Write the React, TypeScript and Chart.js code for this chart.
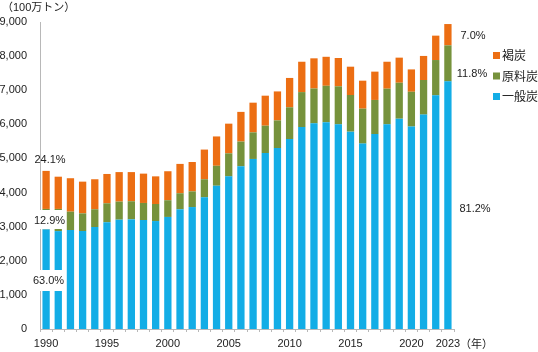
import React, { useEffect, useRef } from "react";
import { Chart, registerables } from "chart.js";

Chart.register(...registerables);

const years = [
  "1990","1991","1992","1993","1994","1995","1996","1997","1998","1999",
  "2000","2001","2002","2003","2004","2005","2006","2007","2008","2009",
  "2010","2011","2012","2013","2014","2015","2016","2017","2018","2019",
  "2020","2021","2022","2023",
];
const shownYears = ["1990","1995","2000","2005","2010","2015","2020","2023"];

const steamCoal = [
  2920, 2870, 2900, 2870, 2990, 3130, 3205, 3215, 3195, 3165,
  3285, 3510, 3575, 3860, 4200, 4475, 4770, 4985, 5160, 5305,
  5570, 5920, 6030, 6060, 6000, 5785, 5435, 5715, 6000, 6165,
  5935, 6285, 6850, 7260,
];
const cokingCoal = [
  600, 650, 540, 520, 520, 555, 530, 530, 500, 500,
  490, 470, 460, 530, 585, 675, 725, 780, 800, 810,
  930, 1025, 1020, 1070, 1115, 1075, 1025, 1000, 1045, 1055,
  1020, 1015, 1035, 1055,
];
const lignite = [
  1115, 945, 980, 930, 880, 860, 865, 855, 860, 810,
  850, 860, 860, 870, 860, 870, 870, 870, 880, 850,
  860, 890, 885, 850, 830, 830, 820, 830, 790, 735,
  655, 705, 715, 625,
];

const seriesNames = ["一般炭", "原料炭", "褐炭"];
const seriesColors = ["#13ADE6", "#76923C", "#EC6E13"];
const shares1990 = ["63.0%", "12.9%", "24.1%"];
const shares2023 = ["81.2%", "11.8%", "7.0%"];
const unitLabel = "（100万トン）";
const yearLabel = "（年）";

const FONT = "'Liberation Sans', Arial, 'Noto Sans CJK JP', sans-serif";

const overlay = {
  id: "overlay",
  afterDatasetsDraw(chart: any) {
    const ctx = chart.ctx;
    ctx.save();
    ctx.font = `11px ${FONT}`;
    ctx.textBaseline = "middle";
    ctx.textAlign = "center";
    // white boxes behind 1990 labels
    ctx.fillStyle = "#fff";
    ctx.fillRect(34, 210, 31, 19);
    ctx.fillRect(33, 270, 32, 21);
    ctx.fillStyle = "#222";
    ctx.fillText(shares1990[2], 50, 160);
    ctx.fillText(shares1990[1], 49.5, 220.5);
    ctx.fillText(shares1990[0], 48.5, 281);
    ctx.fillText(shares2023[2], 473, 35.5);
    ctx.fillText(shares2023[1], 472, 73.5);
    ctx.fillText(shares2023[0], 475, 208.5);

    // unit label
    ctx.textAlign = "left";
    ctx.fillText(unitLabel, 2, 7.5);
    // year label
    ctx.fillText(yearLabel, 460, 344.5);

    // legend
    const legendY = [96.5, 76, 55.5];
    ctx.font = `12px 'Noto Sans CJK JP', sans-serif`;
    for (let i = 0; i < 3; i++) {
      ctx.fillStyle = seriesColors[i];
      ctx.fillRect(493, legendY[i] - 3.5, 7, 7);
      ctx.fillStyle = "#222";
      ctx.fillText(seriesNames[i], 502, legendY[i]);
    }
    ctx.restore();
  },
};

export default function App() {
  const ref = useRef<HTMLCanvasElement | null>(null);
  useEffect(() => {
    document.body.style.margin = "0";
    const c = ref.current;
    if (!c) return;
    const data = [steamCoal, cokingCoal, lignite];
    const chart = new Chart(c, {
      type: "bar",
      data: {
        labels: years,
        datasets: data.map((d, i) => ({
          label: seriesNames[i],
          data: d,
          backgroundColor: seriesColors[i],
          borderWidth: 0,
          categoryPercentage: 1,
          barPercentage: 0.6,
        })),
      },
      options: {
        animation: false,
        responsive: false,
        maintainAspectRatio: false,
        layout: { padding: { top: 22, right: 84, left: 0, bottom: 0 } },
        plugins: { legend: { display: false }, tooltip: { enabled: false } },
        scales: {
          x: {
            stacked: true,
            afterFit: (s: any) => { s.height = 23; },
            grid: {
              display: true,
              drawOnChartArea: false,
              drawTicks: true,
              tickLength: 3,
              color: "#b8b8b8",
            },
            border: { display: true, color: "#b8b8b8", width: 1 },
            ticks: {
              autoSkip: false,
              maxRotation: 0,
              minRotation: 0,
              padding: 5,
              color: "#222",
              font: { family: FONT, size: 11 },
              callback: function (this: any, v: any) {
                const l = years[v as number];
                return shownYears.includes(l) ? l : "";
              },
            },
          },
          y: {
            stacked: true,
            min: 0,
            max: 9000,
            afterFit: (s: any) => { s.width = 40; },
            grid: { display: false, drawTicks: false },
            border: { display: true, color: "#b8b8b8", width: 1 },
            ticks: {
              stepSize: 1000,
              padding: 13,
              color: "#222",
              font: { family: FONT, size: 11 },
              callback: (v: any) => Number(v).toLocaleString("en-US"),
            },
          },
        },
      },
      plugins: [overlay],
    });
    return () => chart.destroy();
  }, []);
  return (
    <div style={{ width: 538, height: 352 }}>
      <canvas ref={ref} width={538} height={352} style={{ display: "block" }} />
    </div>
  );
}
